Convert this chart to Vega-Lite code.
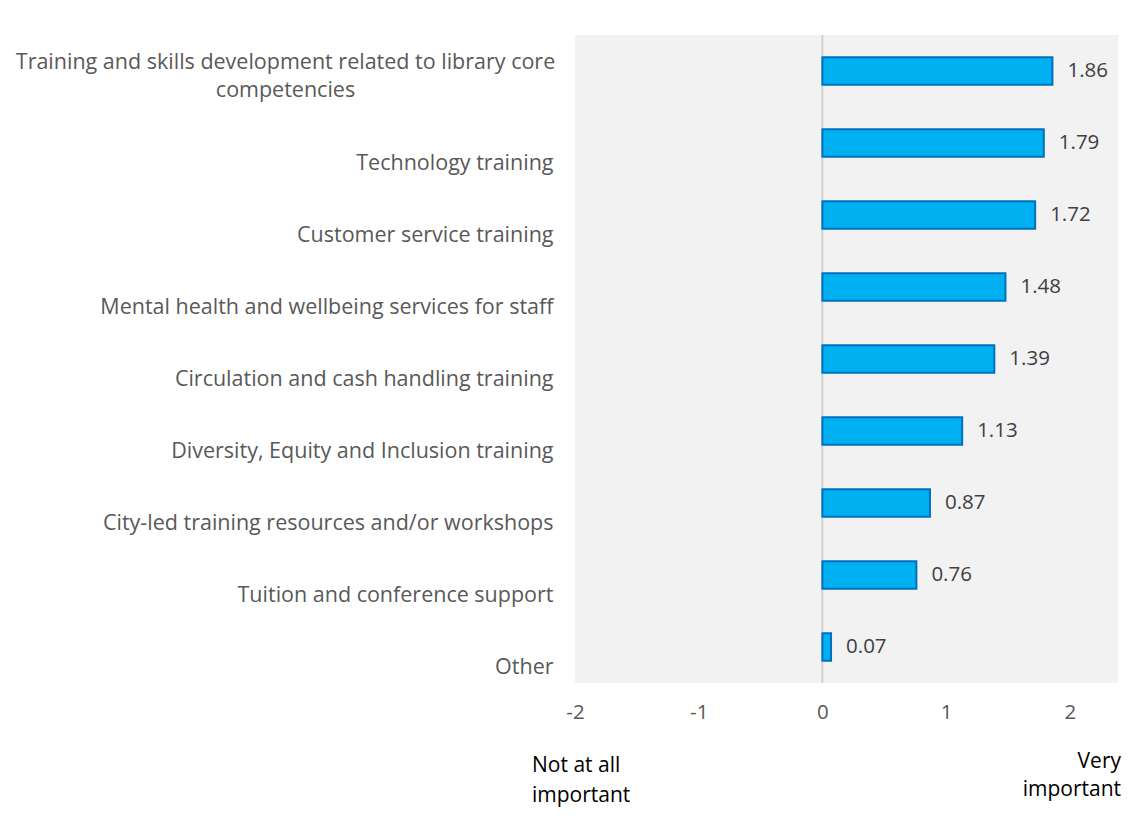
{
  "$schema": "https://vega.github.io/schema/vega-lite/v6.json",
  "width": 543,
  "height": 648,
  "autosize": "none",
  "padding": {"left": 575, "top": 35, "right": 10, "bottom": 150},
  "background": "white",
  "config": {
    "view": {"fill": "#F2F2F2", "stroke": null},
    "font": "Open Sans"
  },
  "layer": [
    {
      "data": {"values": [{"v": 0}]},
      "mark": {"type": "rule", "color": "#D0D0D0", "strokeWidth": 2},
      "encoding": {"x": {"field": "v", "type": "quantitative"}}
    },
    {
      "data": {
        "values": [
          {"item": "Training and skills development related to library core|competencies", "score": 1.86},
          {"item": "Technology training", "score": 1.79},
          {"item": "Customer service training", "score": 1.72},
          {"item": "Mental health and wellbeing services for staff", "score": 1.48},
          {"item": "Circulation and cash handling training", "score": 1.39},
          {"item": "Diversity, Equity and Inclusion training", "score": 1.13},
          {"item": "City-led training resources and/or workshops", "score": 0.87},
          {"item": "Tuition and conference support", "score": 0.76},
          {"item": "Other", "score": 0.07}
        ]
      },
      "encoding": {
        "y": {
          "field": "item",
          "type": "nominal",
          "sort": null,
          "title": null,
          "scale": {"paddingInner": 0.62, "paddingOuter": 0.31},
          "axis": {
            "domain": false,
            "ticks": false,
            "labelExpr": "split(datum.label, '|')",
            "labelFontSize": 21.5,
            "labelColor": "#595959",
            "labelLimit": 0,
            "labelBaseline": "bottom",
            "labelLineHeight": 28,
            "labelOffset": {"condition": {"test": "indexof(datum.label, '|') >= 0", "value": 3}, "value": 32},
            "labelAlign": {"condition": {"test": "indexof(datum.label, '|') >= 0", "value": "center"}, "value": "right"},
            "labelPadding": {"condition": {"test": "indexof(datum.label, '|') >= 0", "value": 290}, "value": 22}
          }
        },
        "x": {
          "field": "score",
          "type": "quantitative",
          "title": null,
          "scale": {"domain": [-2, 2.39], "nice": false, "zero": false},
          "axis": {
            "values": [-2, -1, 0, 1, 2],
            "grid": false,
            "domain": false,
            "ticks": false,
            "labelFontSize": 20.5,
            "labelColor": "#595959",
            "labelPadding": 19,
            "labelFlush": false,
            "labelExpr": "toString(datum.value)"
          }
        }
      },
      "layer": [
        {
          "mark": {"type": "bar", "fill": "#00B0F0", "stroke": "#0070C0", "strokeWidth": 2}
        },
        {
          "mark": {"type": "text", "align": "left", "dx": 15, "fontSize": 20.5, "color": "#404040"},
          "encoding": {"text": {"field": "score", "type": "quantitative", "format": ".2f"}}
        }
      ]
    },
    {
      "data": {
        "values": [
          {"txt": "Not at all\nimportant", "pos": -2, "row": "Other"}
        ]
      },
      "mark": {"type": "text", "align": "left", "baseline": "top", "dx": -43, "dy": 108, "fontSize": 21, "color": "#000000", "lineBreak": "\n", "lineHeight": 30},
      "encoding": {
        "x": {"field": "pos", "type": "quantitative"},
        "y": {"field": "row", "type": "nominal", "sort": null},
        "text": {"field": "txt", "type": "nominal"}
      }
    },
    {
      "data": {
        "values": [
          {"txt": "Very\nimportant", "pos": 2.39, "row": "Other"}
        ]
      },
      "mark": {"type": "text", "align": "right", "baseline": "top", "dx": 3, "dy": 104, "fontSize": 21, "color": "#000000", "lineBreak": "\n", "lineHeight": 28},
      "encoding": {
        "x": {"field": "pos", "type": "quantitative"},
        "y": {"field": "row", "type": "nominal", "sort": null},
        "text": {"field": "txt", "type": "nominal"}
      }
    }
  ]
}
